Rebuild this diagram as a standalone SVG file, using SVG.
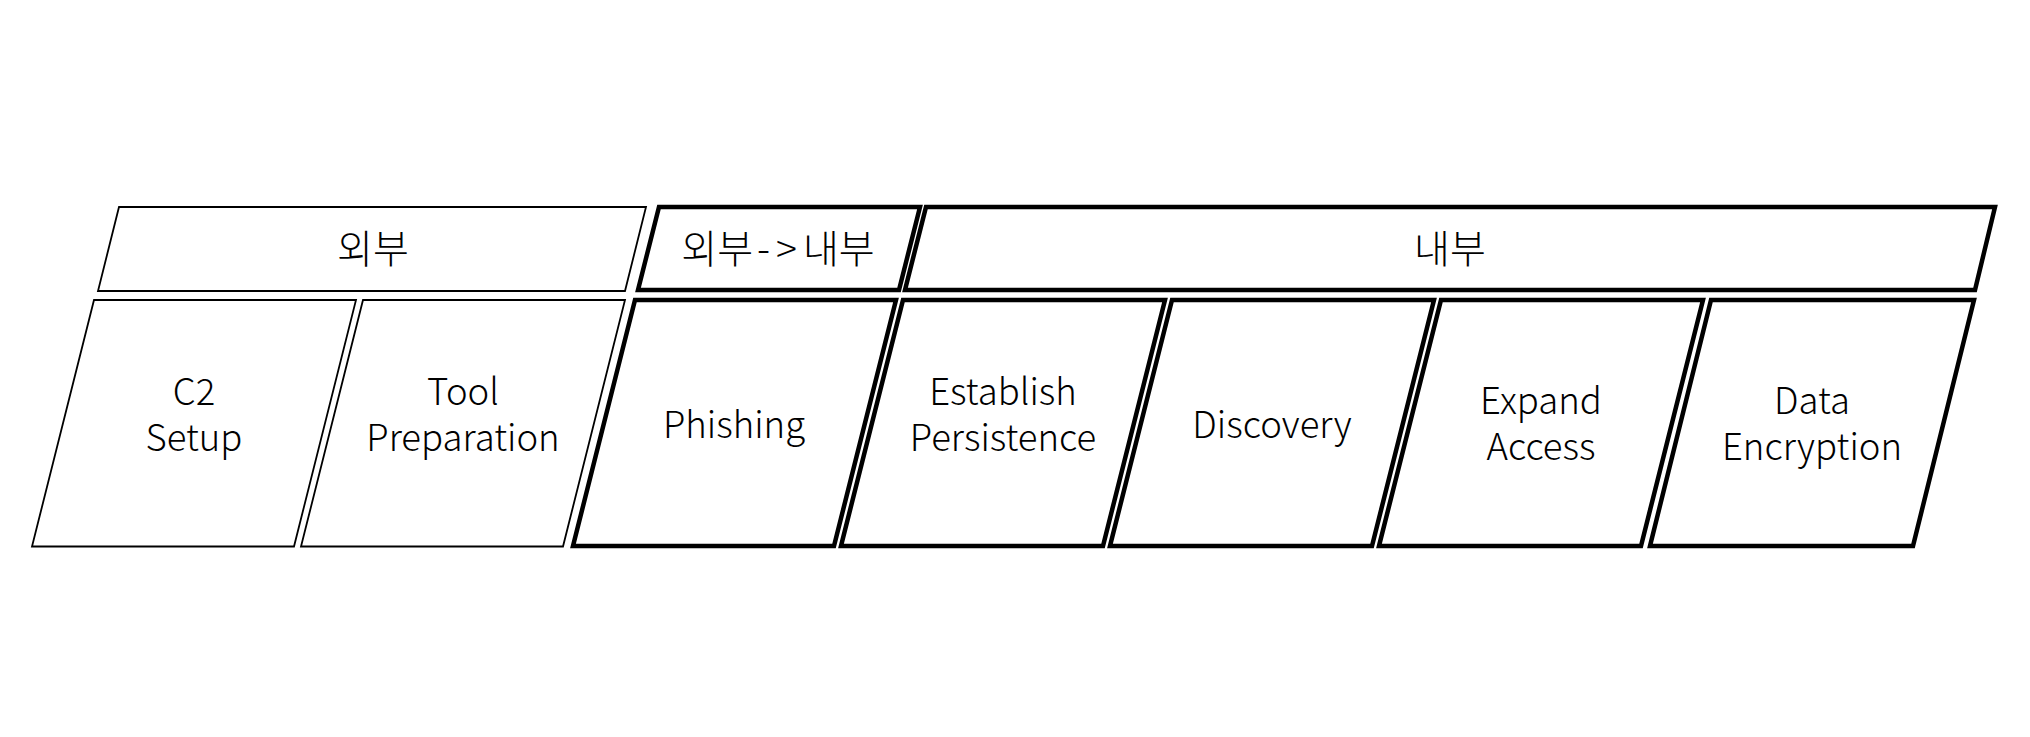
<svg xmlns="http://www.w3.org/2000/svg" width="2030" height="737" viewBox="0 0 2030 737">
<style>
.bg{fill:#ffffff}
.thin{fill:#ffffff;stroke:#000000;stroke-width:1.8;stroke-linejoin:miter}
.thick{fill:#ffffff;stroke:#000000;stroke-width:4.5;stroke-linejoin:miter}
.lbl{font-family:"Noto Sans CJK KR","Noto Sans",sans-serif;font-size:36.5px;font-weight:300;fill:#000000;text-anchor:middle}
.ko{font-size:39px}
</style>
<rect class="bg" x="0" y="0" width="2030" height="737"/>
<g id="phase-external">
<polygon class="thin" points="119,207 646,207 625,291 98,291"/>
<text class="lbl ko" x="373" y="263">외부</text>
</g>
<g id="phase-transition">
<polygon class="thick" points="659,207 920,207 899,290 638,290"/>
<text class="lbl ko" x="778" y="263">외부<tspan dx="4" letter-spacing="6">-&gt;</tspan>내부</text>
</g>
<g id="phase-internal">
<polygon class="thick" points="926,207 1995,207 1975,290 905,290"/>
<text class="lbl ko" x="1450" y="263">내부</text>
</g>
<g id="c2-setup">
<polygon class="thin" points="94,300 356,300 294,546.5 32,546.5"/>
<text class="lbl" x="194" y="405">C2<tspan x="194" dy="46">Setup</tspan></text>
</g>
<g id="tool-preparation">
<polygon class="thin" points="363,300 625,300 563,546.5 301,546.5"/>
<text class="lbl" x="463" y="405">Tool<tspan x="463" dy="46">Preparation</tspan></text>
</g>
<g id="phishing">
<polygon class="thick" points="635,300 896,300 834,546 573,546"/>
<text class="lbl" x="734" y="438">Phishing</text>
</g>
<g id="establish-persistence">
<polygon class="thick" points="903,300 1165,300 1103,546 841,546"/>
<text class="lbl" x="1003" y="405">Establish<tspan x="1003" dy="46">Persistence</tspan></text>
</g>
<g id="discovery">
<polygon class="thick" points="1172,300 1434,300 1372,546 1110,546"/>
<text class="lbl" x="1272" y="438">Discovery</text>
</g>
<g id="expand-access">
<polygon class="thick" points="1441,300 1703,300 1641,546 1379,546"/>
<text class="lbl" x="1541" y="414">Expand<tspan x="1541" dy="46">Access</tspan></text>
</g>
<g id="data-encryption">
<polygon class="thick" points="1711,300 1974,300 1913,546 1650,546"/>
<text class="lbl" x="1812" y="414">Data<tspan x="1812" dy="46">Encryption</tspan></text>
</g>
<g id="connectors"></g>
</svg>
